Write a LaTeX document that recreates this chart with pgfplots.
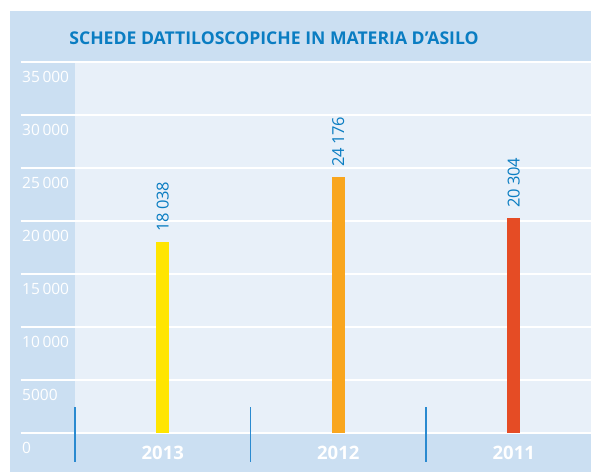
\documentclass[border=0pt]{standalone}
\usepackage{fontspec}
\setmainfont{Open Sans}
\usepackage{pgfplots}
\pgfplotsset{compat=1.18}
\definecolor{panel}{HTML}{CBDFF2}
\definecolor{inner}{HTML}{E8F0F9}
\definecolor{tblue}{HTML}{0A7DC2}
\definecolor{sepblue}{HTML}{2A8AD0}
\definecolor{byellow}{HTML}{FFE500}
\definecolor{borange}{HTML}{F9A61E}
\definecolor{bred}{HTML}{E54C25}
\begin{document}
\begin{tikzpicture}
\path[use as bounding box, fill=white] (0pt,0pt) rectangle (591pt,472pt);
\fill[panel] (10pt,0pt) rectangle (591pt,461pt);
\node[text=tblue, font=\bfseries\fontsize{17.6}{17.6}\selectfont] at (274pt,434pt) {SCHEDE DATTILOSCOPICHE IN MATERIA D’ASILO};
\begin{axis}[
  at={(75pt,39pt)}, anchor=south west, scale only axis,
  width=516pt, height=371pt,
  xmin=-0.5, xmax=2.44, ymin=0, ymax=35000,
  axis line style={draw=none}, major tick style={draw=none},
  axis background/.style={fill=inner},
  ytick={0,5000,10000,15000,20000,25000,30000,35000}, ymajorgrids,
  grid style={white, line width=1.6pt},
  xtick={0,1,2}, xticklabels={2013,2012,2011},
  xticklabel style={font=\bfseries\fontsize{18.5}{18.5}\selectfont, text=white, anchor=north, inner sep=0pt, yshift=-9pt},
  yticklabel style={font=\fontsize{15.5}{15.5}\selectfont, text=white, anchor=north west, inner sep=0pt, xshift=-53pt, yshift=-9pt},
  scaled y ticks=false,
  /pgf/number format/.cd, 1000 sep={\,}, min exponent for 1000 sep=4, assume math mode=true,
  /pgfplots/.cd,
  ybar, bar width=13pt, bar shift=0pt, clip=false,
  nodes near coords,
  nodes near coords style={rotate=90, anchor=west, inner xsep=10pt, inner ysep=0pt, text=tblue, font=\fontsize{16.5}{16.5}\selectfont,
    /pgf/number format/.cd, 1000 sep={\,}, min exponent for 1000 sep=4, assume math mode=true},
]
\pgfplotsinvokeforeach{0,5000,10000,15000,20000,25000,30000,35000}{
  \draw[white, line width=1.6pt] (axis cs:-0.81,#1) -- (axis cs:-0.5,#1);
}
\addplot[fill=byellow, draw=none] coordinates {(0,18038)};
\addplot[fill=borange, draw=none] coordinates {(1,24176)};
\addplot[fill=bred, draw=none] coordinates {(2,20304)};
\pgfplotsinvokeforeach{-0.5,0.5,1.5}{
  \draw[sepblue, line width=1.1pt] (axis cs:#1,2450) -- (axis cs:#1,-2740);
}
\end{axis}
\end{tikzpicture}
\end{document}
